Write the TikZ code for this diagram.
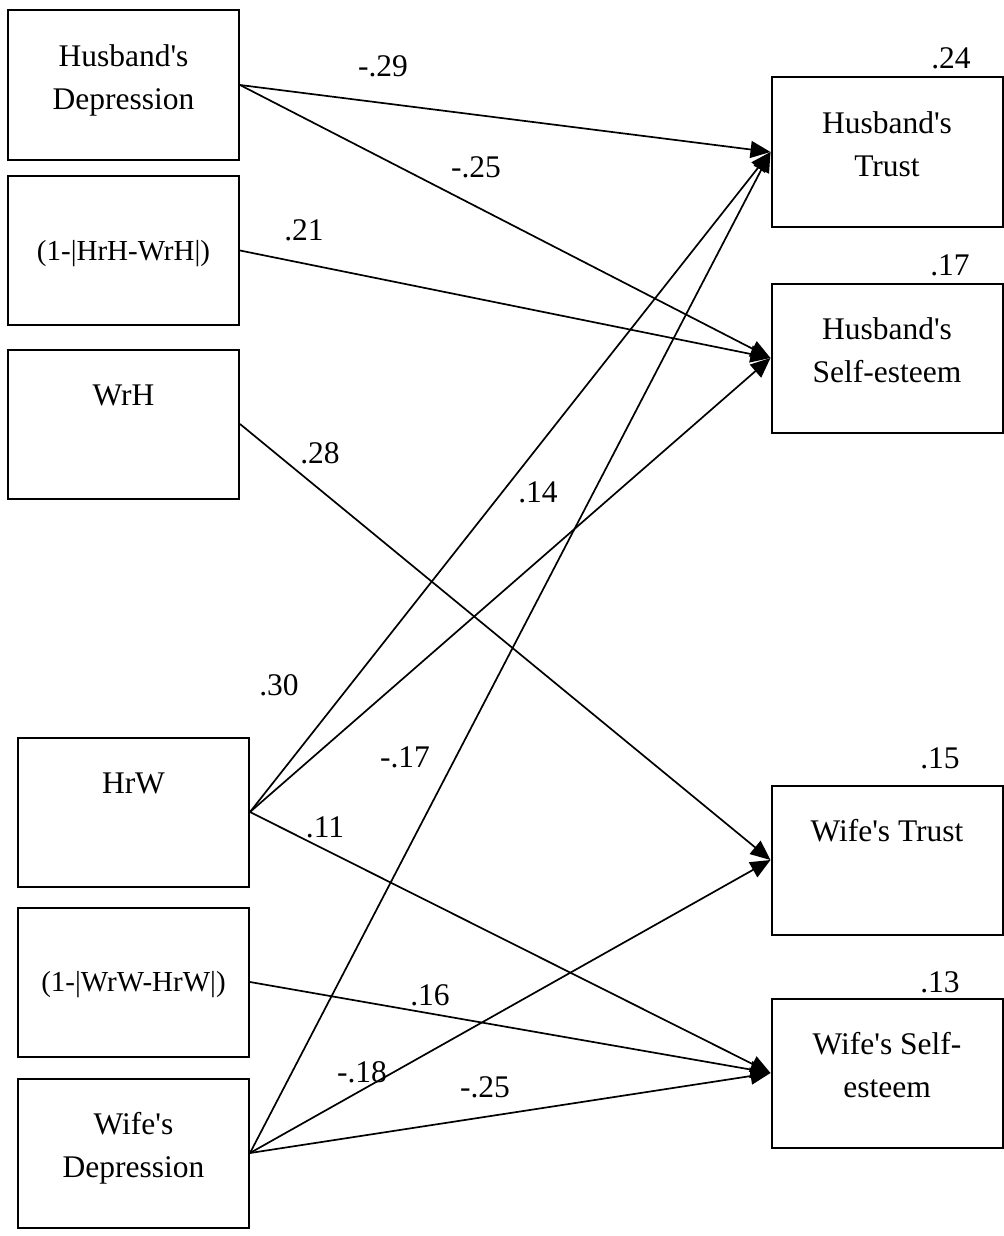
\documentclass[tikz,border=0pt]{standalone}
\usepackage{fontspec}
\setmainfont{Liberation Serif}
\usepackage{tikz}
\usetikzlibrary{arrows.meta}
\def\ap{\textquotesingle}
\tikzset{
	var/.style={draw, line width=1pt, inner sep=0pt, minimum width=115.5pt, minimum height=74.5pt},
	vtext/.style={anchor=north, inner sep=0pt, align=center, font=\fontsize{15.75}{21.5}\selectfont},
	dtext/.style={anchor=north, inner sep=0pt, align=center, font=\fontsize{14.5}{21.5}\selectfont},
	coef/.style={inner sep=0pt, font=\fontsize{15.75}{21.5}\selectfont},
	effect/.style={line width=0.85pt, -{Triangle[length=10pt,width=8.5pt]}}
}

\begin{document}
\begin{tikzpicture}[x=0.5pt, y=-0.5pt]
			%%%%% START %%%%%
			\useasboundingbox (0,0) rectangle (1004,1236);
			
			\node[var] (hdep) at (123.5, 85) {};
			\node[var] (hdiff) at (123.5, 250.5) {};
			\node[var] (wrh) at (123.5, 424) {};
			\node[var] (hrw) at (133.5, 812) {};
			\node[var] (wdiff) at (133.5, 982) {};
			\node[var] (wdep) at (133.5, 1153) {};
			
			\node[var] (htrust) at (887, 152) {};
			\node[var] (hself) at (887, 358) {};
			\node[var] (wtrust) at (887, 860) {};
			\node[var] (wself) at (887, 1073) {};
			
			\node[vtext] (hdep-t) at (123.5, 36) {\strut Husband\ap s\\Depression};
			\node[dtext] (hdiff-t) at (123.5, 229.5) {\strut (1-|HrH-WrH|)};
			\node[vtext] (wrh-t) at (123.5, 375) {\strut WrH};
			\node[vtext] (hrw-t) at (133.5, 763) {\strut HrW};
			\node[dtext] (wdiff-t) at (133.5, 960.5) {\strut (1-|WrW-HrW|)};
			\node[vtext] (wdep-t) at (133.5, 1104) {\strut Wife\ap s\\Depression};
			
			\node[vtext] (htrust-t) at (887, 103) {\strut Husband\ap s\\Trust};
			\node[vtext] (hself-t) at (887, 309) {\strut Husband\ap s\\Self-esteem};
			\node[vtext] (wtrust-t) at (887, 811) {\strut Wife\ap s Trust};
			\node[vtext] (wself-t) at (887, 1024) {\strut Wife\ap s Self-\\esteem};
			
			\node[coef] (r-htrust) at (951, 58) {.24};
			\node[coef] (r-hself) at (950, 265) {.17};
			\node[coef] (r-wtrust) at (940, 758) {.15};
			\node[coef] (r-wself) at (940, 982) {.13};
			
			\draw[effect] (hdep.east) -- (htrust.west);
			\draw[effect] (hdep.east) -- (hself.west);
			\draw[effect] (hdiff.east) -- (hself.west);
			\draw[effect] (wrh.east) -- (wtrust.west);
			\draw[effect] (hrw.east) -- (htrust.west);
			\draw[effect] (hrw.east) -- (hself.west);
			\draw[effect] (hrw.east) -- (wself.west);
			\draw[effect] (wdiff.east) -- (wself.west);
			\draw[effect] (wdep.east) -- (htrust.west);
			\draw[effect] (wdep.east) -- (wtrust.west);
			\draw[effect] (wdep.east) -- (wself.west);
			
			\node[coef] (c-hdep-htrust) at (383, 66) {-.29};
			\node[coef] (c-hdep-hself) at (476, 167) {-.25};
			\node[coef] (c-hdiff-hself) at (304, 230) {.21};
			\node[coef] (c-wrh-wtrust) at (320, 453) {.28};
			\node[coef] (c-hrw-hself) at (538, 492) {.14};
			\node[coef] (c-hrw-htrust) at (279, 685) {.30};
			\node[coef] (c-wdep-htrust) at (405, 757) {-.17};
			\node[coef] (c-hrw-wself) at (325, 827) {.11};
			\node[coef] (c-wdiff-wself) at (430, 995) {.16};
			\node[coef] (c-wdep-wtrust) at (362, 1072) {-.18};
			\node[coef] (c-wdep-wself) at (485, 1087) {-.25};
			
			%%%%% END %%%%%
		\end{tikzpicture}
\end{document}
